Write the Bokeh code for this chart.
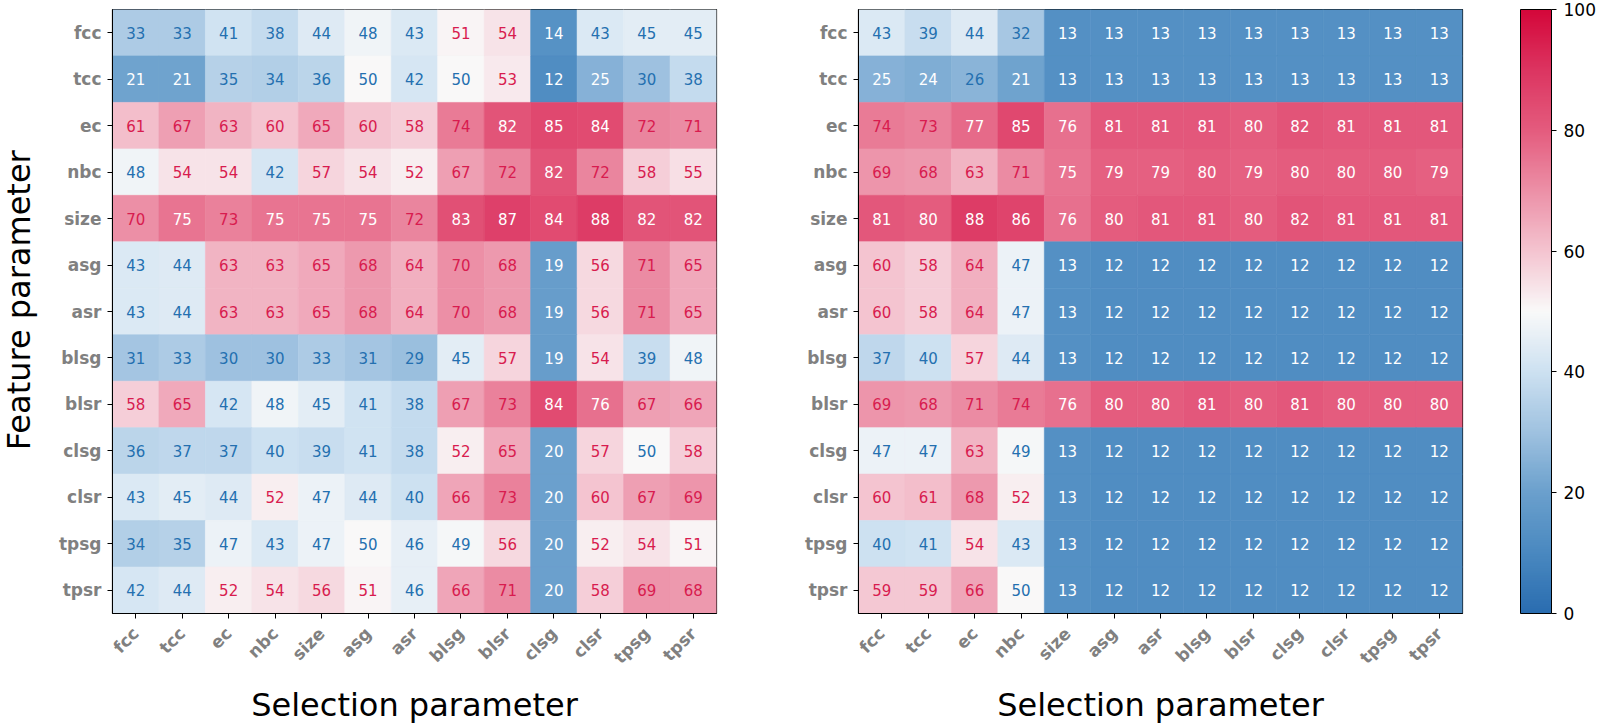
import math
import numpy as np
from bokeh.plotting import figure
from bokeh.models import ColumnDataSource, LinearColorMapper, ColorBar, FixedTicker
from bokeh.layouts import row
from bokeh.embed import file_html
from bokeh.resources import INLINE
from bokeh.core.properties import value

params = ["fcc", "tcc", "ec", "nbc", "size", "asg", "asr", "blsg", "blsr",
          "clsg", "clsr", "tpsg", "tpsr"]

left_values = [
    [33, 33, 41, 38, 44, 48, 43, 51, 54, 14, 43, 45, 45],
    [21, 21, 35, 34, 36, 50, 42, 50, 53, 12, 25, 30, 38],
    [61, 67, 63, 60, 65, 60, 58, 74, 82, 85, 84, 72, 71],
    [48, 54, 54, 42, 57, 54, 52, 67, 72, 82, 72, 58, 55],
    [70, 75, 73, 75, 75, 75, 72, 83, 87, 84, 88, 82, 82],
    [43, 44, 63, 63, 65, 68, 64, 70, 68, 19, 56, 71, 65],
    [43, 44, 63, 63, 65, 68, 64, 70, 68, 19, 56, 71, 65],
    [31, 33, 30, 30, 33, 31, 29, 45, 57, 19, 54, 39, 48],
    [58, 65, 42, 48, 45, 41, 38, 67, 73, 84, 76, 67, 66],
    [36, 37, 37, 40, 39, 41, 38, 52, 65, 20, 57, 50, 58],
    [43, 45, 44, 52, 47, 44, 40, 66, 73, 20, 60, 67, 69],
    [34, 35, 47, 43, 47, 50, 46, 49, 56, 20, 52, 54, 51],
    [42, 44, 52, 54, 56, 51, 46, 66, 71, 20, 58, 69, 68],
]

right_values = [
    [43, 39, 44, 32, 13, 13, 13, 13, 13, 13, 13, 13, 13],
    [25, 24, 26, 21, 13, 13, 13, 13, 13, 13, 13, 13, 13],
    [74, 73, 77, 85, 76, 81, 81, 81, 80, 82, 81, 81, 81],
    [69, 68, 63, 71, 75, 79, 79, 80, 79, 80, 80, 80, 79],
    [81, 80, 88, 86, 76, 80, 81, 81, 80, 82, 81, 81, 81],
    [60, 58, 64, 47, 13, 12, 12, 12, 12, 12, 12, 12, 12],
    [60, 58, 64, 47, 13, 12, 12, 12, 12, 12, 12, 12, 12],
    [37, 40, 57, 44, 13, 12, 12, 12, 12, 12, 12, 12, 12],
    [69, 68, 71, 74, 76, 80, 80, 81, 80, 81, 80, 80, 80],
    [47, 47, 63, 49, 13, 12, 12, 12, 12, 12, 12, 12, 12],
    [60, 61, 68, 52, 13, 12, 12, 12, 12, 12, 12, 12, 12],
    [40, 41, 54, 43, 13, 12, 12, 12, 12, 12, 12, 12, 12],
    [59, 59, 66, 50, 13, 12, 12, 12, 12, 12, 12, 12, 12],
]

colorbar_ticks = [0, 20, 40, 60, 80, 100]
x_title = "Selection parameter"
y_title = "Feature parameter"

# diverging palette (blue - white - red)
anchor_pos = [0, 10, 20, 30, 40, 50, 60, 70, 80, 90, 100]
anchor_col = ["#2a6db0", "#4a89c0", "#6ba0cd", "#9fc2e0", "#cde1f1", "#f9f9f9",
              "#f4c4d0", "#ec90a7", "#e45c7e", "#dc3561", "#d4073a"]


def hex2rgb(h):
    h = h.lstrip("#")
    return [int(h[i:i + 2], 16) for i in (0, 2, 4)]


rgb = np.array([hex2rgb(c) for c in anchor_col], dtype=float)
grid = np.linspace(0, 100, 256)
palette = []
for g in grid:
    r = np.interp(g, anchor_pos, rgb[:, 0])
    gg = np.interp(g, anchor_pos, rgb[:, 1])
    b = np.interp(g, anchor_pos, rgb[:, 2])
    palette.append("#%02x%02x%02x" % (int(round(r)), int(round(gg)), int(round(b))))

mapper = LinearColorMapper(palette=palette, low=0, high=100)

BLUE_TXT = "#2470b0"
RED_TXT = "#d81c4f"


def text_color(v):
    if v <= 25 or v >= 75:
        return "white"
    if v <= 50:
        return BLUE_TXT
    return RED_TXT


def make_source(vals):
    xs, ys, vs, labs, tcs = [], [], [], [], []
    for i, feat in enumerate(params):
        for j, sel in enumerate(params):
            v = vals[i][j]
            xs.append(sel)
            ys.append(feat)
            vs.append(v)
            labs.append(str(v))
            tcs.append(text_color(v))
    return ColumnDataSource(dict(x=xs, y=ys, v=vs, label=labs, tc=tcs))


FONT = "DejaVu Sans"
FRAME = 604
TOP = 9
HEIGHT = 727


def make_fig(vals, border_left, border_right):
    src = make_source(vals)
    p = figure(x_range=params, y_range=list(reversed(params)),
               frame_width=FRAME, frame_height=FRAME,
               min_border_left=border_left, min_border_right=border_right,
               min_border_top=TOP, min_border_bottom=HEIGHT - FRAME - TOP,
               output_backend="svg", toolbar_location=None)
    p.rect(x="x", y="y", width=1, height=1, source=src,
           fill_color={"field": "v", "transform": mapper},
           line_color={"field": "v", "transform": mapper}, line_width=0.6)
    p.text(x="x", y="y", text="label", text_color="tc", source=src,
           text_align="center", text_baseline="middle",
           text_font_size="15px", text_font=value(FONT))
    p.grid.grid_line_color = None
    p.outline_line_color = "black"
    p.outline_line_width = 1.2
    p.axis.axis_line_color = "black"
    p.axis.major_tick_line_color = "black"
    p.axis.major_tick_out = 5
    p.axis.major_tick_in = 0
    p.axis.major_label_text_font = FONT
    p.axis.major_label_text_font_style = "bold"
    p.axis.major_label_text_color = "#808080"
    p.axis.major_label_text_font_size = "17px"
    p.xaxis.major_label_orientation = math.pi / 4
    p.xaxis.major_label_standoff = 12
    p.yaxis.major_label_standoff = 6
    p.xaxis.axis_label = x_title
    p.xaxis.axis_label_standoff = 8
    p.axis.axis_label_text_font = FONT
    p.axis.axis_label_text_font_style = "normal"
    p.axis.axis_label_text_font_size = "32px"
    p.axis.axis_label_text_color = "black"
    return p


# narrow strip carrying the y-axis title
TITLE_W = 40
p0 = figure(width=TITLE_W, height=HEIGHT, x_range=(0, TITLE_W), y_range=(0, HEIGHT),
            x_axis_type=None, y_axis_type=None, min_border=0,
            output_backend="svg", toolbar_location=None)
p0.grid.grid_line_color = None
p0.outline_line_color = None
p0.text(x=[18], y=[HEIGHT - TOP - FRAME / 2 - 39], text=[y_title], angle=math.pi / 2,
        text_align="center", text_baseline="middle",
        text_font=value(FONT), text_font_size="32px", text_color="black")

p1 = make_fig(left_values, 112 - TITLE_W, 60)
p2 = make_fig(right_values, 82, 138)

cb = ColorBar(color_mapper=mapper, width=31, height=FRAME,
              ticker=FixedTicker(ticks=colorbar_ticks),
              padding=0, margin=0, location=(58, 0),
              bar_line_color="black", bar_line_width=1,
              major_tick_line_color="black", major_tick_out=5, major_tick_in=0,
              minor_tick_line_color=None,
              label_standoff=7,
              major_label_text_font=FONT,
              major_label_text_font_size="17px",
              major_label_text_color="black",
              background_fill_color=None, border_line_color=None)
p2.add_layout(cb, "right")

layout = row(p0, p1, p2)
open("out.html", "w").write(file_html(layout, INLINE))
